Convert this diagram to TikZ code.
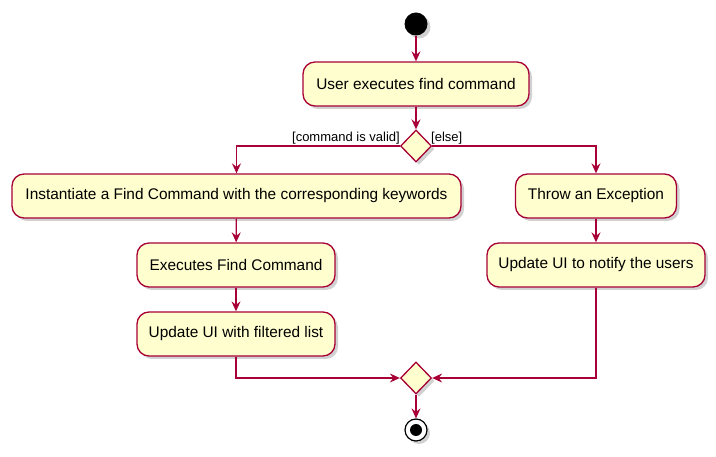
\documentclass[tikz,border=0pt]{standalone}
\usepackage{fontspec}
\setmainfont{Liberation Sans}
\usetikzlibrary{arrows.meta,shapes.geometric,shadows}
\definecolor{umlfill}{HTML}{FEFECE}
\definecolor{umlline}{HTML}{A80036}
\tikzset{
  x=1pt,y=-1pt,
  myshadow/.style={drop shadow={shadow xshift=3pt,shadow yshift=-3pt,fill=black,opacity=0.18}},
  actbox/.style={draw=umlline,fill=umlfill,line width=1.3pt,rounded corners=12pt,
    minimum height=44pt,inner xsep=0pt,font=\fontsize{15.4}{17}\selectfont,myshadow},
  decision/.style={diamond,draw=umlline,fill=umlfill,line width=1.3pt,
    minimum width=31pt,minimum height=32pt,inner sep=0pt,myshadow},
  flow/.style={draw=umlline,line width=1.3pt,-{Stealth[length=10pt,width=9pt,inset=3.5pt]}},
  guard/.style={font=\fontsize{13}{15}\selectfont,inner sep=0pt},
}
\begin{document}
\begin{tikzpicture}
\useasboundingbox (0,0) rectangle (716,457);
\node[circle,fill=black,minimum size=23pt,inner sep=0pt,myshadow] (start) at (416,24) {};
\node[actbox,minimum width=226pt] (b1) at (416,84) {User executes find command};
\node[decision] (d1) at (416,146) {};
\node[actbox,minimum width=449pt] (l1) at (236.5,196) {Instantiate a Find Command with the corresponding keywords};
\node[actbox,minimum width=198pt] (l2) at (236,265) {Executes Find Command};
\node[actbox,minimum width=198pt] (l3) at (236,334) {Update UI with filtered list};
\node[actbox,minimum width=161pt] (r1) at (596,196) {Throw an Exception};
\node[actbox,minimum width=218pt] (r2) at (596,265) {Update UI to notify the users};
\node[decision] (d2) at (416,378) {};
\node[circle,draw=black,fill=white,line width=1.2pt,minimum size=22pt,inner sep=0pt,myshadow] (stop) at (416,430) {};
\fill[black] (stop.center) circle (6pt);
\node[guard,anchor=east] (g1) at (400,138) {[command is valid]};
\node[guard,anchor=west] (g2) at (431,138) {[else]};
\draw[flow] (start) -- (b1);
\draw[flow] (b1) -- (d1);
\draw[flow] (d1.west) -| (l1.north);
\draw[flow] (d1.east) -| (r1.north);
\draw[flow] (l1) -- (l2);
\draw[flow] (l2) -- (l3);
\draw[flow] (r1) -- (r2);
\draw[flow] (l3.south) |- (d2.west);
\draw[flow] (r2.south) |- (d2.east);
\draw[flow] (d2) -- (stop);
\end{tikzpicture}
\end{document}
